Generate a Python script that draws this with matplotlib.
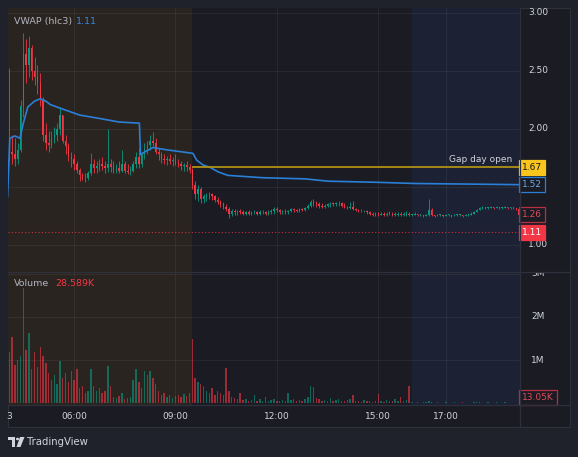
import numpy as np
import matplotlib
matplotlib.use("Agg")
import matplotlib.pyplot as plt
from matplotlib.patches import Rectangle, Polygon, Circle
from matplotlib.lines import Line2D
from matplotlib import transforms

# 5-minute candles starting 04:00 (minutes from midnight)
start_min = 240
bar_min = 5

close = [
    1.85, 1.80, 1.78, 1.74, 1.82, 2.20, 2.65, 2.55, 2.70, 2.50,
    2.45, 2.40, 2.25, 1.95, 1.88, 1.86, 1.92, 1.95, 2.00, 2.12,
    1.90, 1.85, 1.76, 1.74, 1.70, 1.65, 1.60, 1.59, 1.58, 1.62,
    1.70, 1.66, 1.68, 1.70, 1.68, 1.66, 1.70, 1.67, 1.65, 1.66,
    1.64, 1.70, 1.64, 1.63, 1.64, 1.70, 1.76, 1.70, 1.78, 1.82,
    1.86, 1.90, 1.88, 1.80, 1.78, 1.74, 1.73, 1.74, 1.72, 1.73,
    1.71, 1.70, 1.68, 1.69, 1.67, 1.65, 1.52, 1.44, 1.48, 1.40,
    1.42, 1.43, 1.44, 1.42, 1.39, 1.37, 1.35, 1.33, 1.31, 1.27,
    1.29, 1.28, 1.29, 1.28, 1.27, 1.28, 1.27, 1.28, 1.28, 1.27,
    1.28, 1.28, 1.27, 1.28, 1.29, 1.31, 1.30, 1.28, 1.29, 1.28,
    1.29, 1.31, 1.30, 1.29, 1.31, 1.30, 1.32, 1.34, 1.37, 1.36,
    1.35, 1.34, 1.33, 1.34, 1.35, 1.36, 1.35, 1.36, 1.36, 1.34,
    1.33, 1.32, 1.33, 1.31, 1.30, 1.29, 1.29, 1.29, 1.28, 1.27,
    1.26, 1.27, 1.26, 1.27, 1.26, 1.27, 1.27, 1.26, 1.26, 1.27,
    1.26, 1.26, 1.27, 1.26, 1.26, 1.27, 1.26, 1.26, 1.25, 1.26,
    1.30, 1.26, 1.25, 1.26, 1.26, 1.25, 1.26, 1.26, 1.25, 1.26,
    1.26, 1.26, 1.25, 1.26, 1.26, 1.27, 1.28, 1.30, 1.32, 1.33,
    1.32, 1.32, 1.33, 1.32, 1.33, 1.32, 1.32, 1.33, 1.32, 1.32,
    1.32, 1.31, 1.26,
]
high = [
    2.42, 2.53, 1.95, 1.92, 1.88, 2.25, 2.83, 2.78, 2.80, 2.72,
    2.62, 2.55, 2.48, 2.28, 2.05, 1.98, 1.98, 2.02, 2.05, 2.19,
    2.12, 1.95, 1.88, 1.80, 1.78, 1.72, 1.66, 1.62, 1.62, 1.64,
    1.79, 1.74, 1.72, 1.74, 1.76, 1.72, 2.00, 1.74, 1.72, 1.70,
    1.72, 1.82, 1.72, 1.70, 1.68, 1.72, 1.80, 1.84, 1.80, 1.88,
    1.90, 1.95, 1.97, 1.92, 1.84, 1.80, 1.78, 1.77, 1.78, 1.76,
    1.78, 1.74, 1.72, 1.71, 1.72, 1.70, 1.66, 1.55, 1.52, 1.50,
    1.44, 1.45, 1.46, 1.45, 1.43, 1.41, 1.39, 1.37, 1.35, 1.33,
    1.31, 1.31, 1.30, 1.31, 1.30, 1.29, 1.30, 1.29, 1.30, 1.29,
    1.30, 1.30, 1.29, 1.30, 1.31, 1.33, 1.33, 1.31, 1.30, 1.31,
    1.30, 1.32, 1.32, 1.31, 1.32, 1.32, 1.33, 1.35, 1.39, 1.40,
    1.38, 1.37, 1.36, 1.35, 1.36, 1.37, 1.37, 1.37, 1.38, 1.37,
    1.36, 1.34, 1.37, 1.38, 1.32, 1.31, 1.31, 1.30, 1.30, 1.29,
    1.28, 1.28, 1.28, 1.28, 1.28, 1.28, 1.29, 1.28, 1.28, 1.28,
    1.28, 1.28, 1.29, 1.28, 1.27, 1.28, 1.27, 1.27, 1.26, 1.27,
    1.40, 1.32, 1.26, 1.27, 1.27, 1.26, 1.27, 1.27, 1.26, 1.27,
    1.27, 1.27, 1.26, 1.27, 1.27, 1.28, 1.29, 1.31, 1.33, 1.34,
    1.33, 1.33, 1.34, 1.33, 1.34, 1.33, 1.33, 1.34, 1.33, 1.33,
    1.33, 1.32, 1.31,
]
low = [
    1.42, 1.72, 1.70, 1.68, 1.70, 1.80, 2.10, 2.40, 2.45, 2.42,
    2.38, 2.30, 2.20, 1.90, 1.82, 1.80, 1.84, 1.88, 1.90, 1.95,
    1.88, 1.78, 1.72, 1.67, 1.65, 1.62, 1.55, 1.56, 1.54, 1.56,
    1.60, 1.62, 1.62, 1.64, 1.65, 1.62, 1.63, 1.63, 1.62, 1.62,
    1.62, 1.63, 1.62, 1.61, 1.60, 1.63, 1.66, 1.66, 1.67, 1.74,
    1.78, 1.82, 1.85, 1.78, 1.73, 1.71, 1.70, 1.69, 1.70, 1.68,
    1.69, 1.67, 1.65, 1.64, 1.64, 1.62, 1.48, 1.40, 1.38, 1.36,
    1.36, 1.38, 1.40, 1.39, 1.37, 1.35, 1.33, 1.31, 1.29, 1.23,
    1.25, 1.26, 1.26, 1.27, 1.26, 1.26, 1.26, 1.26, 1.27, 1.26,
    1.26, 1.27, 1.26, 1.26, 1.27, 1.27, 1.28, 1.27, 1.27, 1.27,
    1.27, 1.28, 1.28, 1.28, 1.28, 1.29, 1.29, 1.31, 1.33, 1.34,
    1.33, 1.32, 1.32, 1.32, 1.33, 1.33, 1.34, 1.34, 1.34, 1.33,
    1.32, 1.31, 1.31, 1.30, 1.29, 1.28, 1.28, 1.28, 1.27, 1.26,
    1.25, 1.25, 1.25, 1.26, 1.25, 1.25, 1.26, 1.25, 1.25, 1.25,
    1.25, 1.25, 1.25, 1.25, 1.25, 1.26, 1.25, 1.25, 1.24, 1.25,
    1.25, 1.25, 1.24, 1.25, 1.25, 1.24, 1.25, 1.25, 1.24, 1.25,
    1.25, 1.25, 1.24, 1.25, 1.25, 1.26, 1.27, 1.28, 1.30, 1.31,
    1.31, 1.31, 1.32, 1.31, 1.32, 1.31, 1.31, 1.32, 1.31, 1.31,
    1.31, 1.30, 1.25,
]
# volume in millions
volume = [
    1.30, 1.20, 1.54, 0.90, 1.00, 1.10, 2.67, 1.24, 1.63, 0.80,
    1.19, 0.85, 1.30, 1.10, 0.93, 0.70, 0.55, 0.65, 0.45, 0.98,
    0.60, 0.70, 0.50, 0.75, 0.55, 0.80, 0.35, 0.40, 0.25, 0.30,
    0.80, 0.40, 0.30, 0.35, 0.25, 0.30, 0.87, 0.40, 0.15, 0.12,
    0.18, 0.25, 0.10, 0.12, 0.15, 0.55, 0.80, 0.50, 0.35, 0.75,
    0.65, 0.75, 0.60, 0.45, 0.30, 0.20, 0.25, 0.15, 0.20, 0.12,
    0.18, 0.20, 0.15, 0.22, 0.18, 0.25, 1.50, 0.60, 0.50, 0.45,
    0.40, 0.30, 0.25, 0.35, 0.20, 0.30, 0.25, 0.20, 0.82, 0.30,
    0.15, 0.12, 0.10, 0.25, 0.08, 0.10, 0.06, 0.08, 0.20, 0.06,
    0.10, 0.05, 0.15, 0.05, 0.08, 0.10, 0.06, 0.05, 0.08, 0.06,
    0.25, 0.08, 0.10, 0.06, 0.08, 0.05, 0.10, 0.15, 0.40, 0.38,
    0.12, 0.10, 0.05, 0.08, 0.06, 0.12, 0.05, 0.07, 0.10, 0.05,
    0.06, 0.08, 0.10, 0.20, 0.05, 0.06, 0.04, 0.08, 0.05, 0.06,
    0.04, 0.05, 0.22, 0.05, 0.04, 0.08, 0.06, 0.05, 0.10, 0.06,
    0.15, 0.06, 0.08, 0.41, 0.03, 0.02, 0.03, 0.02, 0.04, 0.03,
    0.06, 0.03, 0.02, 0.03, 0.02, 0.02, 0.03, 0.02, 0.02, 0.03,
    0.02, 0.02, 0.03, 0.02, 0.02, 0.02, 0.03, 0.04, 0.03, 0.02,
    0.02, 0.03, 0.02, 0.02, 0.03, 0.02, 0.02, 0.03, 0.02, 0.02,
    0.02, 0.02, 0.013,
]

vwap_t = [242, 246, 255, 264, 270, 278, 290, 300, 310, 318, 335, 370, 406,
          440, 476, 478, 485, 500, 525, 571, 578, 589, 601, 616, 633, 694,
          770, 811, 900, 965, 1150]
vwap_v = [1.42, 1.92, 1.94, 1.92, 2.05, 2.19, 2.24, 2.26, 2.24, 2.21, 2.18,
          2.12, 2.09, 2.06, 2.05, 1.78, 1.80, 1.84, 1.82, 1.79, 1.73, 1.69,
          1.67, 1.63, 1.60, 1.58, 1.57, 1.55, 1.54, 1.53, 1.52]

gap_open = 1.67
prev_close = 1.11
time_ticks = [244, 360, 540, 720, 900, 1020]
time_labels = ["3", "06:00", "09:00", "12:00", "15:00", "17:00"]
price_ticks = [3.00, 2.50, 2.00, 1.00]
vol_ticks = [3, 2, 1]

# colours
outer_bg = "#1f222b"
pane_bg = "#1a1b23"
pre_bg = "#2a2420"
post_bg = "#1c2134"
sep = "#2e313b"
up = "#089981"
down = "#f23645"
txt = "#d1d4dc"

W, H = 578, 457
def fx(px):
    return px / W
def fy(py):
    return 1 - py / H

fig = plt.figure(figsize=(W / 100, H / 100), dpi=100, facecolor=outer_bg)
fig.patches.append(Rectangle((fx(8), fy(427)), fx(570) - fx(8), fy(8) - fy(427),
                             transform=fig.transFigure, facecolor=pane_bg,
                             edgecolor=sep, lw=0.8, zorder=-5))

ax = fig.add_axes([fx(8), fy(272), fx(520) - fx(8), fy(8) - fy(272)])
axv = fig.add_axes([fx(8), fy(405), fx(520) - fx(8), fy(272) - fy(405)], sharex=ax)

t = start_min + bar_min * np.arange(len(close))
c = np.array(close)
o = np.concatenate([[1.50], c[:-1]])
h = np.maximum(np.array(high), np.maximum(o, c))
l = np.minimum(np.array(low), np.minimum(o, c))
v = np.array(volume)
cols = np.where(c >= o, up, down)

xmin, xmax = 242.8, 1151.7
for a in (ax, axv):
    a.set_facecolor(pane_bg)
    a.axvspan(xmin - 10, 570, color=pre_bg, lw=0, zorder=0)
    a.axvspan(960, xmax + 10, color=post_bg, lw=0, zorder=0)
    for s in a.spines.values():
        s.set_visible(False)
    a.tick_params(left=False, bottom=False, labelleft=False, labelbottom=False)
    for tt in time_ticks[1:]:
        a.axvline(tt, color="white", alpha=0.06, lw=0.8, zorder=1)

ax.set_xlim(xmin, xmax)
ax.set_ylim(0.767, 3.043)
axv.set_ylim(-0.035, 3.04)

for p in [3.0, 2.5, 2.0, 1.5, 1.0]:
    ax.axhline(p, color="white", alpha=0.06, lw=0.8, zorder=1)
for m in vol_ticks:
    axv.axhline(m, color="white", alpha=0.06, lw=0.8, zorder=1)

# candles
ax.vlines(t, l, h, colors=cols, lw=0.6, zorder=3)
body = np.maximum(np.abs(c - o), 0.004)
ax.bar(t, body, bottom=np.minimum(o, c), width=bar_min * 0.5, color=cols,
       lw=0, zorder=4)

# vwap, gap line, previous close
ax.plot(vwap_t, vwap_v, color="#2a7fd6", lw=1.2, zorder=5)
ax.hlines(gap_open, 570, xmax, color="#b09015", lw=1.3, zorder=5)
ax.axhline(prev_close, color=down, ls=(0, (1, 2)), lw=0.8, alpha=0.8, zorder=2)
ax.text(1138, 1.733, "Gap day open", ha="right", va="center", color=txt,
        fontsize=6.5, zorder=6)

# volume bars
axv.bar(t, v, width=bar_min * 0.5, color=cols, alpha=0.6, lw=0, zorder=3)

# legends
ax.text(0.012, 0.965, "VWAP (hlc3)", transform=ax.transAxes, color="#b2b5be",
        fontsize=6.8, va="top", ha="left")
ax.text(0.133, 0.965, "1.11", transform=ax.transAxes, color="#3389e6",
        fontsize=6.8, va="top", ha="left")
axv.text(0.012, 0.945, "Volume", transform=axv.transAxes, color="#b2b5be",
         fontsize=6.8, va="top", ha="left")
axv.text(0.092, 0.945, "28.589K", transform=axv.transAxes, color=down,
         fontsize=6.8, va="top", ha="left")

# right price scale
tr = transforms.blended_transform_factory(ax.transAxes, ax.transData)
for p in price_ticks:
    ax.text(1.035, p, f"{p:.2f}", transform=tr, color=txt, fontsize=6.5,
            ha="center", va="center", clip_on=False)
trv = transforms.blended_transform_factory(axv.transAxes, axv.transData)
vol_clip = transforms.TransformedBbox(
    transforms.Bbox([[fx(520), fy(405)], [fx(570), fy(273)]]), fig.transFigure)
for m in vol_ticks:
    lab = axv.text(1.022, m, f"{m}M", transform=trv, color=txt, fontsize=6.5,
                   ha="left", va="center")
    lab.set_clip_box(vol_clip)
    lab.set_clip_on(True)

def tag(a, trans, y, label, fc, ec, tc):
    a.text(1.004, y, label, transform=trans, color=tc, fontsize=6.5,
           ha="left", va="center", clip_on=False, zorder=10,
           bbox=dict(boxstyle="square,pad=0.32", fc=fc, ec=ec, lw=0.9))

tag(ax, tr, gap_open, "1.67", "#f9c51d", "#f9c51d", "#131722")
tag(ax, tr, 1.52, "1.52", pane_bg, "#2a7fd6", "#6aa8ee")
tag(ax, tr, 1.26, "1.26", pane_bg, "#b8303f", "#e04a5a")
tag(ax, tr, prev_close, "1.11", down, down, "white")
tag(axv, trv, 0.13, "13.05K", pane_bg, "#b8303f", "#e04a5a")

# time scale
trt = transforms.blended_transform_factory(axv.transData, axv.transAxes)
for tt, lab in zip(time_ticks, time_labels):
    axv.text(tt, -0.083, lab, transform=trt, color=txt, fontsize=6.5,
             ha="center", va="center", clip_on=False)

# separators
for (x0, y0, x1, y1) in [(8, 272, 570, 272), (8, 405, 570, 405), (520, 8, 520, 427)]:
    fig.add_artist(Line2D([fx(x0), fx(x1)], [fy(y0), fy(y1)], color=sep, lw=0.9,
                          transform=fig.transFigure))

# logo
logo = "#d1d4dc"
fig.patches.append(Rectangle((fx(8), fy(440)), fx(15) - fx(8), fy(437) - fy(440),
                             transform=fig.transFigure, fc=logo, lw=0))
fig.patches.append(Rectangle((fx(12), fy(447)), fx(15) - fx(12), fy(437) - fy(447),
                             transform=fig.transFigure, fc=logo, lw=0))
fig.patches.append(Circle((fx(17.5), fy(439)), 1.6 / W, transform=fig.transFigure,
                          fc=logo, lw=0))
fig.patches.append(Polygon([(fx(20), fy(437)), (fx(24.5), fy(437)), (fx(20.5), fy(447)),
                            (fx(16.5), fy(447))], closed=True,
                           transform=fig.transFigure, fc=logo, lw=0))
fig.text(fx(27), fy(442), "TradingView", color=logo, fontsize=7.3, ha="left",
         va="center")

fig.savefig("out.png", dpi=100, facecolor=outer_bg)
